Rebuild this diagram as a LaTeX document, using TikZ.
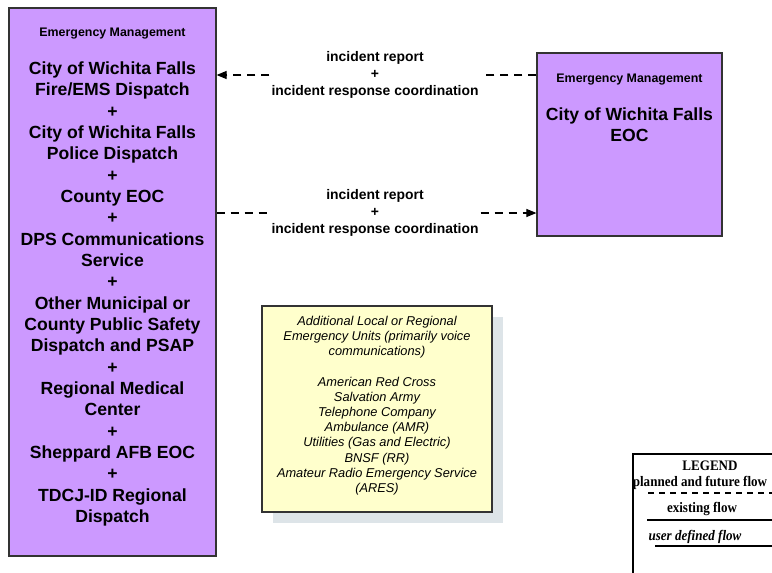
\documentclass[tikz,border=0pt]{standalone}
\usepackage{fontspec}
\setmainfont{Liberation Sans}
\newfontfamily\legendserif{Liberation Serif}
\usetikzlibrary{arrows.meta}
\definecolor{boxpurple}{HTML}{CC99FF}
\definecolor{noteyellow}{HTML}{FFFFCC}
\definecolor{shadowgray}{HTML}{DDE4E8}
\definecolor{edgegray}{HTML}{333333}
\tikzset{
  purplebox/.style={draw=edgegray, line width=1.2pt, fill=boxpurple, rectangle, inner sep=0pt},
  headtext/.style={font=\bfseries\fontsize{12.4}{14.8}\selectfont, inner sep=0pt},
  bigtext/.style={font=\bfseries\fontsize{17.6}{21.33}\selectfont, align=center, inner sep=0pt},
  flowlabel/.style={font=\bfseries\fontsize{13.9}{17}\selectfont, align=center, inner sep=2pt},
  flowline/.style={line width=1.1pt, dash pattern=on 8pt off 6pt},
  flowtip/.style={-{Triangle[length=10pt,width=8pt]}},
  notetext/.style={font=\itshape\fontsize{12.8}{15.2}\selectfont, align=center, inner sep=0pt},
  legtext/.style={font=\legendserif\bfseries\fontsize{14.5}{16}\selectfont, inner sep=0pt, xscale=0.9, transform shape},
  legline/.style={line width=1.2pt}
}
\begin{document}
\begin{tikzpicture}[x=1pt,y=-1pt]
\useasboundingbox (0,0) rectangle (772,573);
\clip (0,0) rectangle (772,573);
\fill[white] (0,0) rectangle (772,573);

% left box
\node[purplebox, minimum width=207pt, minimum height=548pt] (L) at (112.5,282) {};
\node[headtext] (Lhead) at (112.5,34) {Emergency Management};
\node[bigtext] (Ltext) at (112.5,294) {City of Wichita Falls\\Fire/EMS Dispatch\\+\\City of Wichita Falls\\Police Dispatch\\+\\County EOC\\+\\DPS Communications\\Service\\+\\Other Municipal or\\County Public Safety\\Dispatch and PSAP\\+\\Regional Medical\\Center\\+\\Sheppard AFB EOC\\+\\TDCJ-ID Regional\\Dispatch};

% right box
\node[purplebox, minimum width=185pt, minimum height=183pt] (R) at (629.5,144.5) {};
\node[headtext] (Rhead) at (629.5,80) {Emergency Management};
\node[bigtext] (Rtext) at (629.5,124.5) {City of Wichita Falls\\EOC};

% flows
\node[flowlabel] (lab1) at (375,75) {incident report\\+\\incident response coordination};
\node[flowlabel] (lab2) at (375,213) {incident report\\+\\incident response coordination};
\draw[flowline] (R.west |- lab1.center) -- (lab1.east |- lab1.center);
\draw[flowline, flowtip] (lab1.west |- lab1.center) -- (L.east |- lab1.center);
\draw[flowline] (L.east |- lab2.center) -- (lab2.west |- lab2.center);
\draw[flowline, flowtip] (lab2.east |- lab2.center) -- (R.west |- lab2.center);

% note box with shadow
\fill[shadowgray] (273,317) rectangle (503,523);
\node[draw=edgegray, line width=1.1pt, fill=noteyellow, minimum width=230pt, minimum height=206pt, inner sep=0pt] (N) at (377,409) {};
\node[notetext] (Ntext) at (377,405.5) {Additional Local or Regional\\Emergency Units (primarily voice\\communications)\\[15.2pt]American Red Cross\\Salvation Army\\Telephone Company\\Ambulance (AMR)\\Utilities (Gas and Electric)\\BNSF (RR)\\Amateur Radio Emergency Service\\(ARES)};

% legend
\draw[line width=1.2pt, fill=white] (633,600) -- (633,454) -- (800,454);
\node[legtext] (legT) at (710,466) {LEGEND};
\node[legtext] (legP) at (700,483) {planned and future flow};
\coordinate (p1) at (648,493);
\coordinate (p2) at (772,493);
\draw[legline, dash pattern=on 6pt off 5pt] (p1) -- (p2);
\node[legtext] (legE) at (702,509) {existing flow};
\coordinate (e1) at (647,520);
\coordinate (e2) at (772,520);
\draw[legline] (e1) -- (e2);
\node[legtext, font=\legendserif\bfseries\itshape\fontsize{14.5}{16}\selectfont] (legU) at (695,537) {user defined flow};
\coordinate (u1) at (655,546);
\coordinate (u2) at (772,546);
\draw[legline] (u1) -- (u2);
\end{tikzpicture}
\end{document}
